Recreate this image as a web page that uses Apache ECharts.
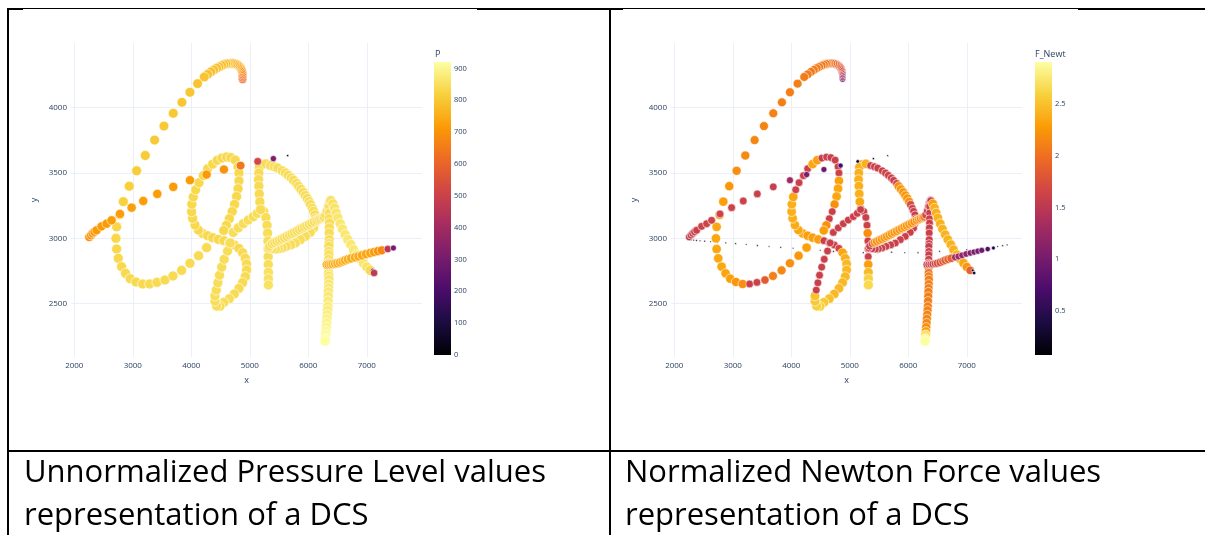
<!DOCTYPE html>
<html>
<head>
<meta charset="utf-8">
<script src="https://cdn.jsdelivr.net/npm/echarts@6/dist/echarts.min.js"></script>
<style>
  html, body { margin: 0; padding: 0; background: #ffffff; }
  #chart { width: 1205px; height: 535px; }
</style>
</head>
<body>
<div id="chart"></div>
<script>
// Signature trajectory of a dynamic signature sample.
// Every sample is [x, y, pressure P, normalized force F_Newt].

const X_TICKS = [2000, 3000, 4000, 5000, 6000, 7000];
const Y_TICKS = [2500, 3000, 3500, 4000];
const P_TICKS = [0, 100, 200, 300, 400, 500, 600, 700, 800, 900];
const F_TICKS = [0.5, 1, 1.5, 2, 2.5];

const CAPTION_LEFT = ['Unnormalized Pressure Level values', 'representation of a DCS'];
const CAPTION_RIGHT = ['Normalized Newton Force values', 'representation of a DCS'];

// pen hovering above the tablet (no pressure)
const penUp = [
  [2255, 2990, 0, 0.08], [2290, 2988, 0, 0.07], [2330, 2986, 0, 0.07], [2380, 2984, 0, 0.08],
  [2440, 2981, 0, 0.07], [2520, 2978, 0, 0.08], [2620, 2974, 0, 0.07], [2740, 2970, 0, 0.08],
  [2880, 2965, 0, 0.07], [3049, 2960, 0, 0.08], [3230, 2953, 0, 0.07], [3420, 2946, 0, 0.08],
  [3620, 2938, 0, 0.07], [3820, 2931, 0, 0.08], [4031, 2924, 0, 0.07], [4250, 2916, 0, 0.08],
  [4495, 2909, 0, 0.07], [4721, 2900, 0, 0.08], [4949, 2896, 0, 0.07], [5231, 2890, 0, 0.08],
  [5480, 2891, 0, 0.07], [5714, 2894, 0, 0.08], [5940, 2890, 0, 0.07], [6167, 2890, 0, 0.08],
  [6340, 2896, 0, 0.07], [6536, 2901, 0, 0.08], [6762, 2909, 0, 0.07], [7000, 2912, 0, 0.08],
  [7216, 2916, 0, 0.07], [7442, 2929, 0, 0.08], [7527, 2937, 0, 0.07], [7612, 2944, 0, 0.08],
  [7690, 2950, 0, 0.07]
];

// hook, long rising arc and the "C"
const strokeC = [
  [4877, 4217, 600, 0.95], [4877, 4230, 610, 1.05], [4876, 4243, 620, 1.15], [4875, 4256, 635, 1.3],
  [4872, 4269, 650, 1.4], [4865, 4282, 665, 1.5], [4855, 4294, 680, 1.6], [4840, 4306, 695, 1.7],
  [4821, 4315, 710, 1.75], [4800, 4324, 725, 1.8], [4775, 4330, 740, 1.85], [4748, 4335, 752, 1.9],
  [4718, 4338, 760, 1.95], [4685, 4339, 768, 2.0], [4650, 4338, 772, 2.02], [4620, 4336, 776, 2.04],
  [4593, 4335, 780, 2.05], [4557, 4329, 782, 2.06], [4519, 4322, 784, 2.07], [4476, 4312, 786, 2.08],
  [4433, 4302, 788, 2.08], [4386, 4289, 790, 2.08], [4336, 4274, 790, 2.08], [4280, 4255, 792, 2.08],
  [4222, 4235, 793, 2.08], [4108, 4184, 795, 2.1], [3977, 4118, 797, 2.1], [3840, 4041, 799, 2.1],
  [3692, 3957, 801, 2.12], [3533, 3859, 803, 2.13], [3373, 3752, 806, 2.15], [3214, 3634, 809, 2.17],
  [3066, 3517, 812, 2.2], [2940, 3399, 816, 2.25], [2838, 3281, 820, 2.3], [2775, 3180, 824, 2.33],
  [2724, 3088, 828, 2.35], [2712, 3000, 830, 2.35], [2724, 2918, 832, 2.35], [2752, 2847, 834, 2.35],
  [2809, 2783, 835, 2.35], [2877, 2732, 836, 2.33], [2957, 2691, 837, 2.3], [3054, 2666, 838, 2.25],
  [3168, 2651, 838, 2.2], [3288, 2651, 839, 1.6], [3413, 2663, 839, 1.62], [3550, 2681, 840, 1.85],
  [3687, 2712, 840, 2.1], [3835, 2755, 840, 2.15], [3977, 2809, 840, 2.2], [4125, 2867, 840, 2.25],
  [4262, 2929, 840, 2.3]
];

// the "S": upper loop, middle row and lower loop
const strokeS = [
  [4194, 3038, 835, 2.35], [4120, 3064, 835, 2.35], [4063, 3102, 835, 2.38], [4023, 3153, 835, 2.4],
  [4006, 3204, 835, 2.4], [4010, 3261, 835, 2.4], [4034, 3317, 835, 2.35], [4076, 3372, 835, 1.6],
  [4133, 3426, 835, 1.6], [4207, 3480, 835, 1.6], [4280, 3533, 835, 1.62], [4365, 3568, 835, 2.35],
  [4444, 3598, 835, 2.3], [4523, 3614, 835, 1.6], [4603, 3622, 835, 1.58], [4676, 3618, 835, 1.58],
  [4750, 3599, 835, 1.6], [4800, 3548, 835, 1.6], [4815, 3500, 835, 1.62], [4815, 3440, 835, 2.3],
  [4800, 3380, 835, 2.35], [4775, 3320, 835, 2.35], [4740, 3260, 835, 2.2], [4700, 3205, 835, 1.6],
  [4650, 3150, 835, 1.6], [4600, 3100, 835, 2.2], [4555, 3060, 835, 2.3],
  [4279, 3020, 835, 2.3], [4365, 3005, 835, 2.3], [4462, 2992, 835, 2.3], [4558, 2982, 835, 1.6],
  [4650, 2967, 835, 1.6], [4735, 2949, 835, 1.62], [4815, 2923, 835, 1.65], [4877, 2890, 840, 2.35],
  [4923, 2847, 840, 2.4], [4946, 2804, 840, 2.45], [4946, 2758, 840, 2.45], [4923, 2707, 840, 2.45],
  [4877, 2661, 840, 2.45], [4815, 2617, 840, 2.45], [4735, 2574, 840, 2.45], [4650, 2538, 845, 2.5],
  [4558, 2510, 845, 2.55], [4490, 2480, 845, 2.6], [4433, 2482, 845, 2.6], [4405, 2520, 845, 2.55],
  [4405, 2560, 845, 2.5]
];

// rising stroke from the lower loop, hooking down into the stem
const strokeHook = [
  [4427, 2604, 845, 1.6], [4455, 2660, 845, 1.6], [4483, 2718, 845, 1.6], [4520, 2780, 845, 1.6],
  [4563, 2840, 845, 1.6], [4620, 2903, 845, 1.6], [4665, 2965, 845, 1.6], [4718, 3045, 845, 1.6],
  [4803, 3080, 845, 1.6], [4889, 3112, 845, 1.6], [4974, 3140, 845, 1.6], [5060, 3166, 845, 1.6],
  [5128, 3191, 845, 1.6], [5185, 3232, 845, 1.6], [5240, 3205, 845, 1.6], [5275, 3160, 845, 1.6],
  [5295, 3100, 845, 1.62], [5305, 3040, 845, 2.2], [5310, 2980, 845, 1.6], [5312, 2920, 845, 1.6],
  [5315, 2860, 845, 1.6], [5316, 2800, 848, 2.3], [5318, 2740, 850, 2.45], [5318, 2690, 852, 2.6],
  [5318, 2643, 855, 2.65]
];

// upper part of the "P" stem
const strokeStem = [
  [5200, 3565, 840, 2.4], [5165, 3545, 840, 2.4], [5155, 3500, 840, 2.4], [5150, 3450, 840, 2.4],
  [5155, 3400, 840, 2.4], [5162, 3340, 840, 2.4], [5172, 3280, 840, 2.35], [5185, 3220, 840, 1.6]
];

// bowl of the "P"
const strokeBowl = [
  [5276, 3570, 845, 2.4], [5356, 3557, 845, 1.6], [5420, 3548, 845, 1.6], [5477, 3538, 845, 1.6],
  [5556, 3517, 845, 1.6], [5610, 3500, 845, 1.62], [5659, 3482, 845, 1.62], [5710, 3462, 845, 1.6],
  [5750, 3444, 845, 1.6], [5800, 3420, 845, 1.65], [5835, 3398, 845, 2.2], [5875, 3375, 845, 2.25],
  [5915, 3352, 845, 2.25], [5950, 3328, 845, 2.25], [5983, 3305, 845, 2.25], [6015, 3280, 845, 2.2],
  [6040, 3258, 845, 1.7], [6070, 3230, 845, 1.6], [6091, 3207, 845, 1.6], [6115, 3180, 845, 1.6],
  [6125, 3150, 845, 1.6], [6119, 3117, 845, 1.6], [6091, 3079, 845, 1.6], [6034, 3046, 845, 1.6],
  [5949, 3015, 845, 1.6], [5864, 2990, 845, 1.6], [5778, 2964, 845, 1.6], [5700, 2950, 845, 1.6],
  [5620, 2938, 845, 1.6], [5551, 2926, 845, 1.6], [5490, 2920, 845, 1.6], [5438, 2918, 845, 1.6],
  [5380, 2920, 845, 1.6], [5324, 2926, 845, 1.6]
];

// line from the bowl up to the apex of the "A"
const strokeToApex = [
  [5340, 2940, 845, 1.6], [5381, 2959, 845, 1.6], [5425, 2968, 845, 2.2], [5466, 2977, 845, 2.2],
  [5510, 2986, 845, 2.2], [5551, 2995, 845, 2.25], [5595, 3005, 845, 2.25], [5636, 3015, 845, 2.25],
  [5680, 3026, 845, 2.25], [5722, 3036, 845, 2.25], [5765, 3046, 845, 2.25], [5807, 3056, 845, 2.25],
  [5850, 3067, 845, 2.25], [5892, 3077, 845, 2.25], [5935, 3087, 845, 2.25], [5977, 3097, 845, 2.25],
  [6020, 3107, 845, 2.25], [6063, 3117, 845, 2.25], [6105, 3128, 845, 2.2], [6148, 3138, 845, 2.2],
  [6185, 3146, 845, 2.2], [6216, 3153, 845, 2.2], [6250, 3160, 845, 2.15], [6273, 3165, 845, 2.1],
  [6300, 3180, 845, 1.7], [6325, 3210, 845, 1.6], [6345, 3245, 845, 1.6], [6362, 3275, 845, 1.6],
  [6380, 3292, 845, 1.6]
];

// left leg of the "A"
const strokeLeftLeg = [
  [6375, 3283, 845, 1.6], [6364, 3245, 845, 1.6], [6364, 3194, 845, 1.6], [6362, 3150, 845, 1.6],
  [6364, 3117, 845, 1.6], [6360, 3080, 845, 1.6], [6358, 3041, 845, 1.6], [6358, 2990, 845, 1.6],
  [6355, 2960, 845, 1.6], [6352, 2939, 845, 1.6], [6352, 2900, 850, 1.6], [6352, 2875, 850, 1.6],
  [6350, 2840, 850, 1.62], [6347, 2811, 852, 1.65], [6347, 2775, 855, 2.0], [6347, 2735, 858, 2.05],
  [6350, 2710, 860, 2.08], [6352, 2684, 862, 2.1], [6350, 2650, 865, 2.1], [6347, 2620, 868, 2.1],
  [6344, 2590, 870, 2.1], [6341, 2556, 872, 2.1], [6338, 2520, 875, 2.1], [6335, 2480, 878, 2.1],
  [6330, 2450, 880, 2.12], [6324, 2416, 885, 2.12], [6318, 2385, 890, 2.15], [6313, 2352, 895, 2.15],
  [6307, 2320, 900, 2.2], [6301, 2288, 905, 2.3], [6296, 2260, 910, 2.7], [6290, 2230, 915, 2.85],
  [6288, 2215, 918, 2.9]
];

// right leg of the "A"
const strokeRightLeg = [
  [6386, 3288, 850, 1.6], [6420, 3265, 855, 2.3], [6449, 3232, 860, 2.4], [6477, 3194, 862, 2.4],
  [6506, 3156, 865, 2.42], [6546, 3112, 868, 2.42], [6585, 3071, 870, 2.42], [6631, 3028, 870, 2.42],
  [6676, 2990, 870, 2.42], [6727, 2952, 870, 2.42], [6773, 2913, 870, 2.42], [6830, 2875, 870, 2.42],
  [6886, 2842, 868, 2.4], [6943, 2811, 865, 2.35], [7000, 2781, 860, 2.25], [7057, 2755, 840, 1.9],
  [7102, 2755, 160, 0.2], [7125, 2735, 470, 0.35]
];

// cross bar of the "A"
const strokeCrossbar = [
  [6318, 2798, 740, 1.6], [6350, 2799, 745, 1.6], [6386, 2801, 748, 1.6], [6420, 2803, 750, 1.62],
  [6460, 2806, 752, 1.65], [6500, 2810, 752, 1.7], [6545, 2816, 752, 1.75], [6590, 2824, 752, 1.8],
  [6631, 2832, 752, 1.85], [6680, 2840, 750, 1.9], [6733, 2847, 750, 1.9], [6800, 2855, 748, 1.4],
  [6858, 2862, 745, 1.3], [6920, 2870, 742, 1.2], [6989, 2880, 738, 1.15], [7060, 2888, 732, 1.1],
  [7125, 2895, 720, 1.05], [7190, 2902, 700, 1.0], [7256, 2908, 680, 0.95], [7358, 2918, 460, 0.75],
  [7455, 2926, 300, 0.4]
];

// long diagonal flourish
const strokeFlourish = [
  [2256, 3010, 690, 1.5], [2285, 3024, 700, 1.55], [2313, 3038, 705, 1.58], [2345, 3050, 710, 1.6],
  [2382, 3062, 712, 1.6], [2467, 3092, 715, 1.62], [2553, 3112, 718, 1.62], [2638, 3138, 720, 1.63],
  [2781, 3187, 722, 1.63], [2980, 3235, 722, 1.62], [3179, 3286, 722, 1.62], [3419, 3340, 720, 1.6],
  [3692, 3394, 718, 1.58], [3977, 3445, 715, 1.3], [4262, 3488, 712, 1.05], [4558, 3527, 700, 0.95],
  [4843, 3557, 640, 0.7], [5136, 3589, 520, 0.35], [5403, 3610, 320, 0.12], [5648, 3633, 40, 0.08]
];

const samples = [].concat(
  penUp, strokeC, strokeS, strokeHook, strokeStem, strokeBowl, strokeToApex,
  strokeLeftLeg, strokeRightLeg, strokeCrossbar, strokeFlourish
);

// plotly "Inferno" colour scale
const INFERNO = ['#000004', '#1b0c41', '#4a0c6b', '#781c6d', '#a52c60',
                 '#cf4446', '#ed6925', '#fb9b06', '#f7d13d', '#fcffa4'];

const P_RANGE = [0, 920];
const F_RANGE = [0.07, 2.91];
const X_RANGE = [1944, 7944];
const Y_RANGE = [2092, 4495];
const MAX_DIAMETER = 10.5;

const FONT = 'Open Sans, DejaVu Sans, sans-serif';
const AXIS_COLOR = '#2a3f5f';
const GRID_COLOR = '#ebf0f8';

// plot areas and colour bars
const PLOTS = [
  { left: 71, top: 43, width: 351, height: 314 },
  { left: 671, top: 43, width: 351, height: 314 }
];
const BARS = [
  { left: 434, top: 62, width: 17, height: 293 },
  { left: 1035, top: 62, width: 17, height: 293 }
];

function plainNumber(v) {
  return String(v);
}

function bubble(max) {
  return function (val) {
    const v = Math.max(val[2], 0);
    return MAX_DIAMETER * Math.sqrt(v / max);
  };
}

function plotXAxis(gridIndex) {
  return {
    gridIndex: gridIndex, type: 'value', min: X_RANGE[0], max: X_RANGE[1],
    name: 'x', nameLocation: 'middle', nameGap: 19,
    nameTextStyle: { color: AXIS_COLOR, fontSize: 9, fontFamily: FONT },
    axisLine: { show: false },
    axisTick: { show: false, customValues: X_TICKS },
    axisLabel: { customValues: X_TICKS, formatter: plainNumber, color: AXIS_COLOR,
                 fontSize: 8, fontFamily: FONT, margin: 5 },
    splitLine: { show: true, lineStyle: { color: GRID_COLOR, width: 1 } }
  };
}

function plotYAxis(gridIndex) {
  return {
    gridIndex: gridIndex, type: 'value', min: Y_RANGE[0], max: Y_RANGE[1],
    name: 'y', nameLocation: 'middle', nameGap: 32,
    nameTextStyle: { color: AXIS_COLOR, fontSize: 9, fontFamily: FONT },
    axisLine: { show: false },
    axisTick: { show: false, customValues: Y_TICKS },
    axisLabel: { customValues: Y_TICKS, formatter: plainNumber, color: AXIS_COLOR,
                 fontSize: 8, fontFamily: FONT, margin: 4 },
    splitLine: { show: true, lineStyle: { color: GRID_COLOR, width: 1 } }
  };
}

function barYAxis(gridIndex, range, ticks) {
  return {
    gridIndex: gridIndex, type: 'value', position: 'right', min: range[0], max: range[1],
    axisLine: { show: false },
    axisTick: { show: false, customValues: ticks },
    axisLabel: { customValues: ticks, formatter: plainNumber, color: AXIS_COLOR,
                 fontSize: 7.5, fontFamily: FONT, margin: 3 },
    splitLine: { show: false }
  };
}

function barXAxis(gridIndex) {
  return { gridIndex: gridIndex, type: 'value', min: 0, max: 1, show: false };
}

function gradientBar(box) {
  const stops = INFERNO.map(function (c, i) { return { offset: i / (INFERNO.length - 1), color: c }; });
  return {
    type: 'rect', silent: true,
    shape: { x: box.left, y: box.top, width: box.width, height: box.height },
    style: { fill: new echarts.graphic.LinearGradient(0, 1, 0, 0, stops) }
  };
}

function blackRect(x, y, w, h) {
  return { type: 'rect', silent: true, shape: { x: x, y: y, width: w, height: h }, style: { fill: '#000000' } };
}

function caption(x, y, text) {
  return {
    type: 'text', silent: true, x: x, y: y,
    style: { text: text, fill: '#000000', font: '31px "Open Sans", sans-serif', verticalAlign: 'middle' }
  };
}

function barTitle(x, text) {
  return {
    type: 'text', silent: true, x: x, y: 54,
    style: { text: text, fill: AXIS_COLOR, font: '9px "Open Sans", sans-serif', verticalAlign: 'middle' }
  };
}

const chart = echarts.init(document.getElementById('chart'), null, { renderer: 'canvas' });

chart.setOption({
  animation: false,
  backgroundColor: '#ffffff',
  grid: [PLOTS[0], PLOTS[1], BARS[0], BARS[1]],
  xAxis: [plotXAxis(0), plotXAxis(1), barXAxis(2), barXAxis(3)],
  yAxis: [plotYAxis(0), plotYAxis(1), barYAxis(2, P_RANGE, P_TICKS), barYAxis(3, F_RANGE, F_TICKS)],
  visualMap: [
    { type: 'continuous', show: false, seriesIndex: 0, dimension: 2,
      min: P_RANGE[0], max: P_RANGE[1], inRange: { color: INFERNO } },
    { type: 'continuous', show: false, seriesIndex: 1, dimension: 2,
      min: F_RANGE[0], max: F_RANGE[1], inRange: { color: INFERNO } }
  ],
  series: [
    {
      name: 'P', type: 'scatter', xAxisIndex: 0, yAxisIndex: 0,
      data: samples.map(function (s) { return [s[0], s[1], s[2]]; }),
      symbolSize: bubble(P_RANGE[1]),
      itemStyle: { borderColor: '#ffffff', borderWidth: 0.6, opacity: 1 },
      emphasis: { disabled: true }
    },
    {
      name: 'F_Newt', type: 'scatter', xAxisIndex: 1, yAxisIndex: 1,
      data: samples.map(function (s) { return [s[0], s[1], s[3]]; }),
      symbolSize: bubble(F_RANGE[1]),
      itemStyle: { borderColor: '#ffffff', borderWidth: 0.6, opacity: 1 },
      emphasis: { disabled: true }
    }
  ],
  graphic: [
    gradientBar(BARS[0]),
    gradientBar(BARS[1]),
    barTitle(435, 'P'),
    barTitle(1035, 'F_Newt'),
    // table rules
    blackRect(7, 8, 1198, 1),
    blackRect(7, 8, 16, 2),
    blackRect(477, 8, 146, 2),
    blackRect(1078, 8, 127, 2),
    blackRect(7, 8, 2, 527),
    blackRect(609, 8, 2, 527),
    blackRect(7, 450, 1198, 2),
    caption(24, 473, CAPTION_LEFT[0]),
    caption(24, 516, CAPTION_LEFT[1]),
    caption(625, 473, CAPTION_RIGHT[0]),
    caption(625, 516, CAPTION_RIGHT[1])
  ]
});
</script>
</body>
</html>
